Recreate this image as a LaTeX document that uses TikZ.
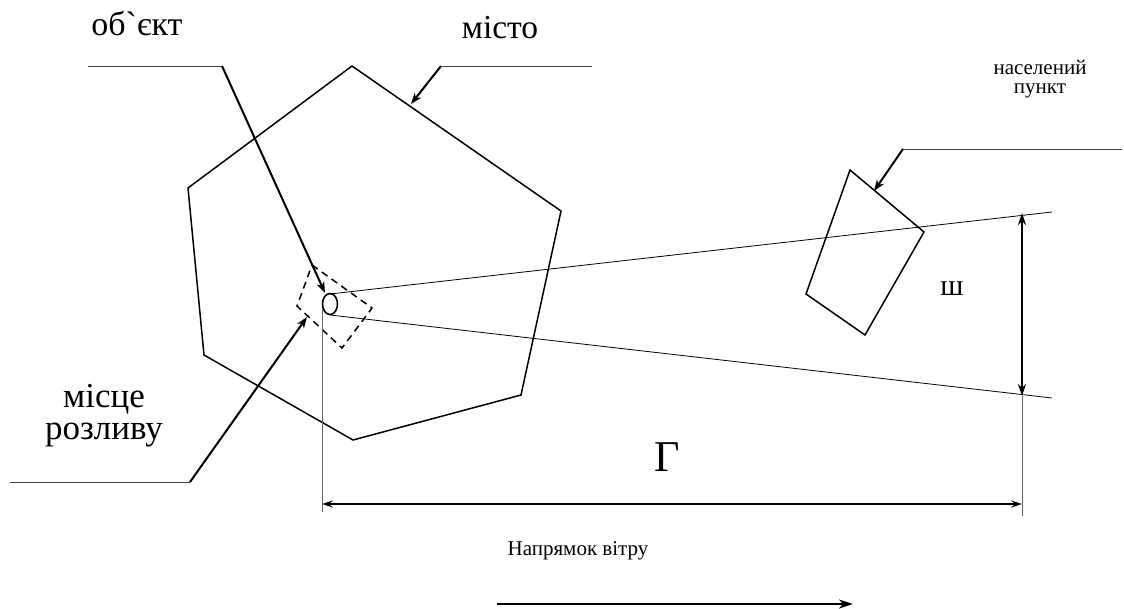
\documentclass[tikz,border=0pt]{standalone}
\usepackage{fontspec}
\setmainfont{Liberation Serif}[Ligatures=TeXOff]
\usetikzlibrary{arrows.meta,shapes.geometric}
\begin{document}
\begin{tikzpicture}[x=1pt,y=-1pt,
  outl/.style={line width=1.5pt,line join=miter},
  leadh/.style={line width=0.9pt,draw=black!75},
  leadd/.style={line width=2pt,-{Stealth[length=11pt,width=8pt,inset=3pt]}},
  thinl/.style={line width=0.8pt},
  thinv/.style={line width=0.9pt,draw=black!60},
  dimarr/.style={line width=2.2pt,{Stealth[length=12pt,width=8pt,inset=4pt]}-{Stealth[length=12pt,width=8pt,inset=4pt]}},
  lbl/.style={inner sep=0pt,align=center}]
\useasboundingbox (0,0) rectangle (1124,608);
% city pentagon
\coordinate (c1) at (352,66);
\coordinate (c2) at (561,211);
\coordinate (c3) at (521,395);
\coordinate (c4) at (353,440);
\coordinate (c5) at (204,355);
\coordinate (c6) at (188,188);
\draw[outl] (c1)--(c2)--(c3)--(c4)--(c5)--(c6)--cycle;
% settlement
\coordinate (s1) at (850,170);
\coordinate (s2) at (924,232);
\coordinate (s3) at (865,335);
\coordinate (s4) at (806,294);
\draw[outl] (s1)--(s2)--(s3)--(s4)--cycle;
% spill zone
\coordinate (d1) at (312,265);
\coordinate (d2) at (372,308);
\coordinate (d3) at (342,348);
\coordinate (d4) at (297,306);
\draw[line width=1.5pt,dash pattern=on 7pt off 5pt] (d1)--(d2)--(d3)--(d4)--cycle;
% object ellipse
\node[draw,line width=1.6pt,ellipse,minimum width=15pt,minimum height=21pt,inner sep=0pt] (obj) at (330,304) {};
% plume
\coordinate (p1) at (330,294);
\coordinate (p2) at (330,315);
\coordinate (q1) at (1052,212);
\coordinate (q2) at (1052,398);
\draw[thinl] (p1)--(q1);
\draw[thinl] (p2)--(q2);
% extension lines
\coordinate (v1) at (322,308);
\coordinate (v2) at (322,512);
\coordinate (w1) at (1022,396);
\coordinate (w2) at (1022,516);
\draw[thinv] (v1)--(v2);
\draw[thinv] (w1)--(w2);
% width dimension
\coordinate (a1) at (1022,213);
\coordinate (a2) at (1022,396);
\draw[dimarr] (a1)--(a2);
\node[lbl,anchor=base,font=\fontsize{30}{32}\selectfont] (sh) at (952,295) {ш};
% length dimension
\coordinate (b1) at (322,504);
\coordinate (b2) at (1022,504);
\draw[line width=2pt,{Stealth[length=11pt,width=7pt,inset=4pt]}-{Stealth[length=11pt,width=7pt,inset=4pt]}] (b1)--(b2);
\node[lbl,font=\fontsize{44}{46}\selectfont] (G) at (667,457) {Г};
% leaders
\coordinate (o0) at (88,66);
\coordinate (o1) at (222,66);
\coordinate (o2) at (325,293);
\draw[leadh] (o0)--(o1);
\draw[leadd] (o1)--(o2);
\node[lbl,anchor=base,font=\fontsize{34}{36}\selectfont] (objl) at (137,35) {об`єкт};
\coordinate (m0) at (592,66);
\coordinate (m1) at (441,66);
\coordinate (m2) at (411,104);
\draw[leadh] (m0)--(m1);
\draw[leadd] (m1)--(m2);
\node[lbl,anchor=base,font=\fontsize{33.5}{36}\selectfont] (cityl) at (500,38) {місто};
\coordinate (n0) at (1122,149);
\coordinate (n1) at (903,149);
\coordinate (n2) at (874,191);
\draw[leadh] (n0)--(n1);
\draw[leadd] (n1)--(n2);
\node[lbl,font=\fontsize{21}{19}\selectfont] (setl) at (1040,79) {населений\\пункт};
\coordinate (r0) at (10,482);
\coordinate (r1) at (190,482);
\coordinate (r2) at (307,317);
\draw[leadh] (r0)--(r1);
\draw[leadd] (r1)--(r2);
\node[lbl,font=\fontsize{35}{32}\selectfont] (spl) at (104,416) {місце\\розливу};
% wind
\node[lbl,anchor=base,font=\fontsize{21}{23}\selectfont] (windl) at (578,555) {Напрямок вітру};
\coordinate (wa) at (497,604);
\coordinate (wb) at (853,604);
\draw[line width=2.2pt,-{Stealth[length=14pt,width=9pt,inset=4pt]}] (wa)--(wb);
\end{tikzpicture}
\end{document}
